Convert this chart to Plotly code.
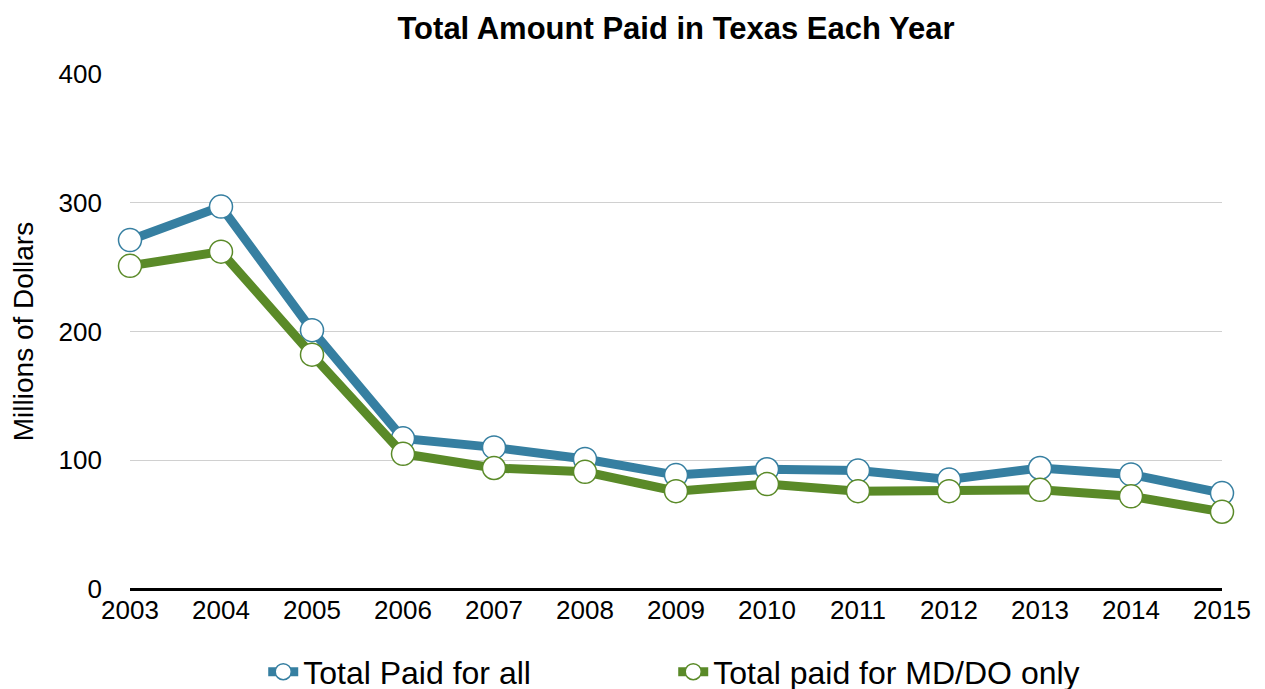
import plotly.graph_objects as go

years = [2003, 2004, 2005, 2006, 2007, 2008, 2009, 2010, 2011, 2012, 2013, 2014, 2015]
total_all = [271, 297, 201, 117, 110, 101, 88.5, 93, 92, 85, 94, 89, 74.5]
total_mddo = [251, 262, 182, 105, 94, 91, 76, 81.5, 76, 76, 77, 72, 60]

blue = "#367fa1"
green = "#5a8a28"
font = "Liberation Sans, Arial, Helvetica, sans-serif"

fig = go.Figure()
for name, vals, col in [("Total Paid for all", total_all, blue),
                        ("Total paid for MD/DO only", total_mddo, green)]:
    fig.add_trace(go.Scatter(
        x=years, y=vals, name=name, mode="lines+markers",
        line=dict(color=col, width=9),
        marker=dict(size=23, color="white", line=dict(color=col, width=1.5)),
        cliponaxis=False,
    ))

fig.update_layout(
    width=1265, height=689,
    paper_bgcolor="white", plot_bgcolor="white",
    margin=dict(l=122, r=51, t=66, b=108, autoexpand=False),
    title=dict(text="<b>Total Amount Paid in Texas Each Year</b>", x=0.5, xanchor="center",
               xref="paper", y=0.971, yanchor="middle",
               font=dict(family=font, size=31, color="black")),
    font=dict(family=font, color="black"),
    legend=dict(orientation="h", x=0.122, xanchor="left", y=-0.161, yanchor="middle",
                font=dict(size=32, family=font), entrywidth=365, itemwidth=30),
    showlegend=True,
)
fig.update_xaxes(range=[2003, 2015], tickmode="array", tickvals=years, automargin=False,
                 ticktext=[str(y) for y in years], tickfont=dict(size=26),
                 showgrid=False, zeroline=False, showline=False, ticks="", ticklabelstandoff=3)
fig.update_yaxes(range=[0, 400], tickvals=[0, 100, 200, 300, 400], tickfont=dict(size=26),
                 automargin=False,
                 showgrid=True, gridcolor="#d0d0d0", gridwidth=1.2,
                 zeroline=True, zerolinecolor="black", zerolinewidth=3,
                 title=dict(text="Millions of Dollars", font=dict(size=28), standoff=24),
                 ticklabelstandoff=27)

fig.write_html("out.html")
